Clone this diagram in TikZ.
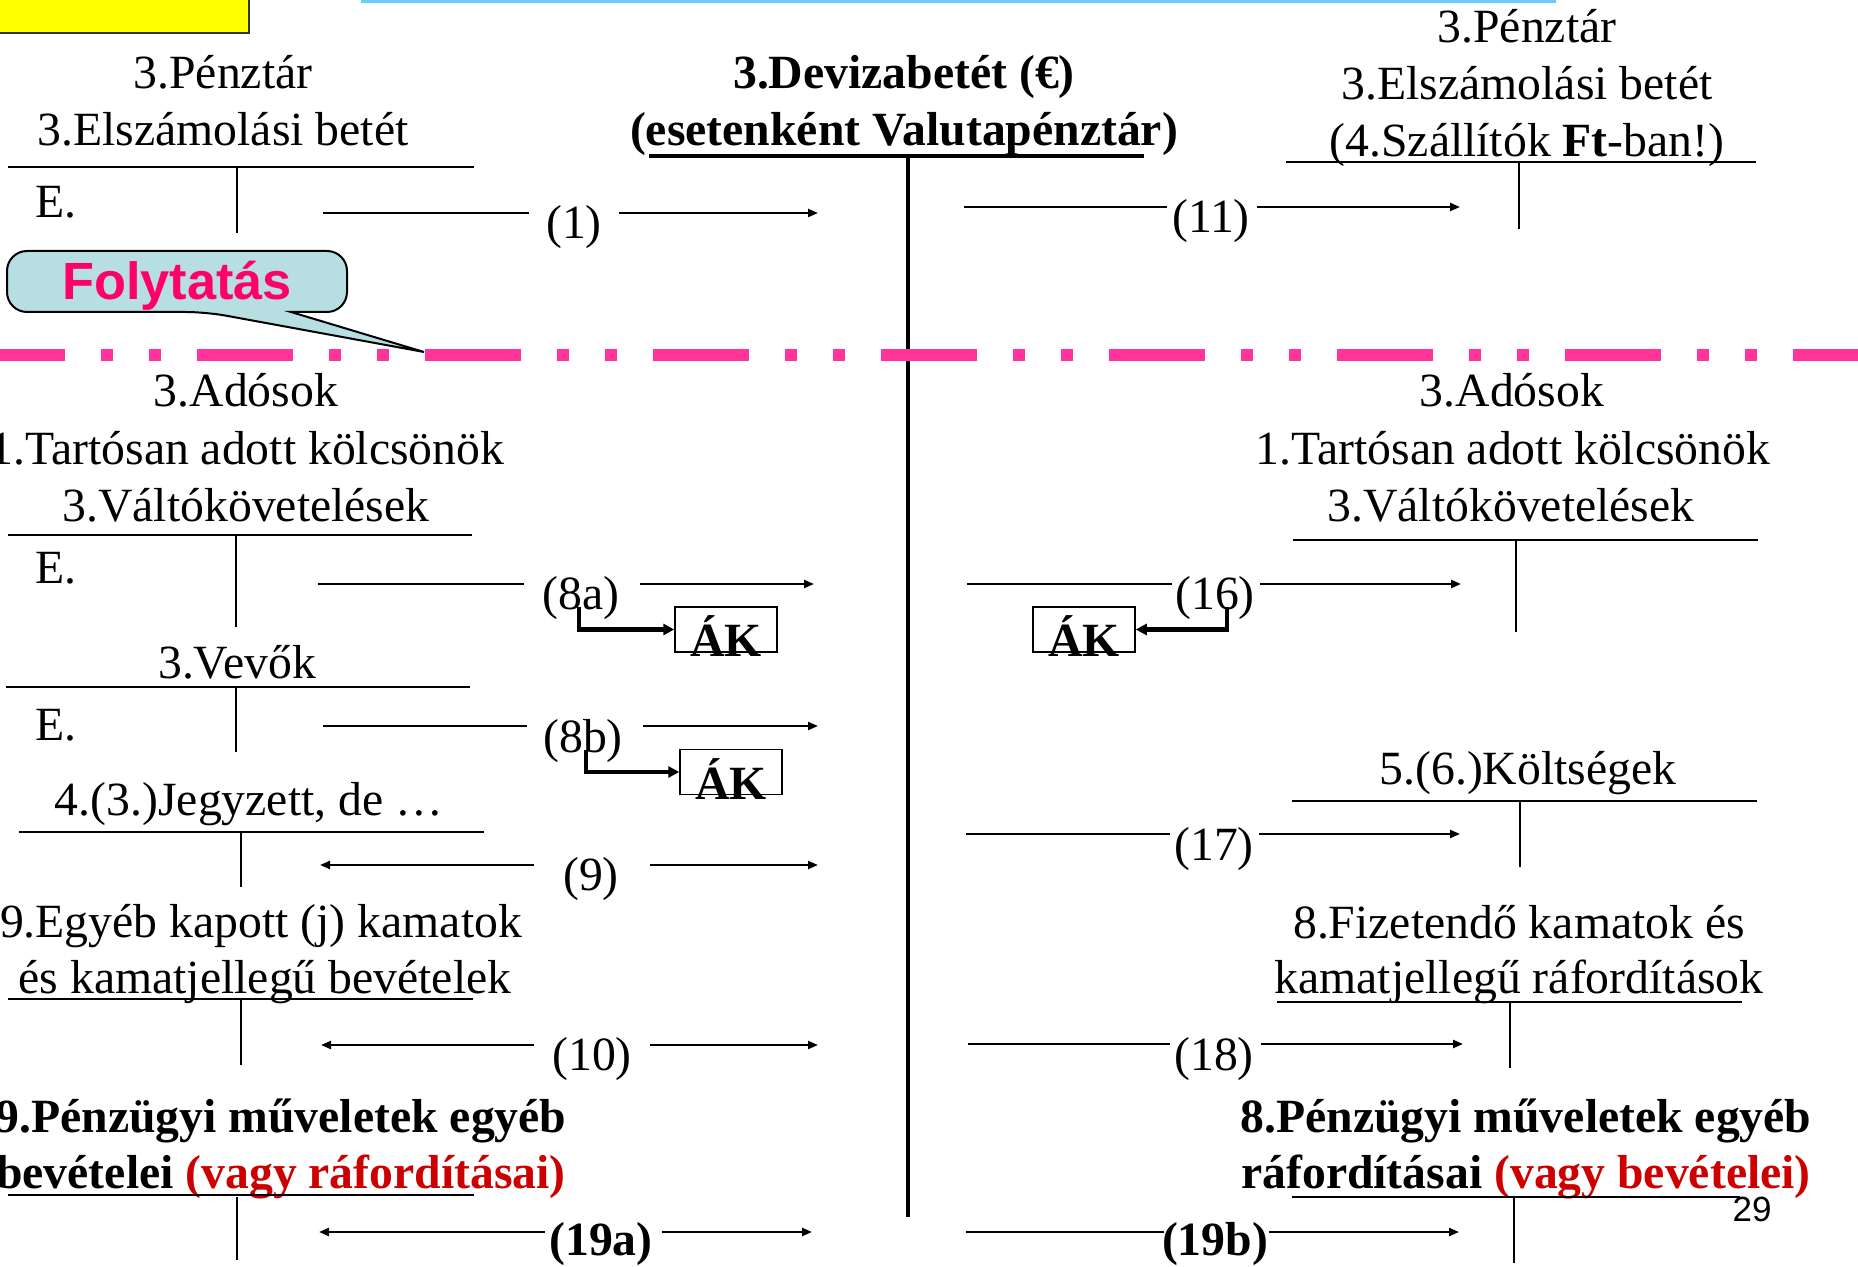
\documentclass[tikz,border=0pt]{standalone}
\usepackage{fontspec}
\setmainfont{Liberation Serif}
\setsansfont{Liberation Sans}
\usepackage{tikz}
\usetikzlibrary{arrows.meta}
\definecolor{ffqqww}{rgb}{1.,0.,0.4}
\definecolor{ffzzcc}{rgb}{1.,0.2,0.6}
\definecolor{ccqqqq}{rgb}{0.8,0.,0.}
\definecolor{bbddee}{rgb}{0.718,0.871,0.882}
\definecolor{wwccff}{rgb}{0.4,0.8,1.}
\definecolor{ffffqq}{rgb}{1.,1.,0.}
\tikzset{
  every node/.style={font=\fontsize{13.57}{16}\selectfont,inner sep=0pt},
  acct/.style={anchor=base},
  acctb/.style={anchor=base,font=\fontsize{13.57}{16}\selectfont\bfseries},
  tbar/.style={line width=0.28mm},
  tstem/.style={line width=0.2mm},
  bigt/.style={line width=0.45mm},
  post/.style={line width=0.22mm},
  akbox/.style={draw,line width=0.15mm,minimum width=10.2mm,minimum height=4.5mm},
  bent/.style={line width=0.45mm,-{Triangle[length=1.1mm,width=1.1mm]}}
}

\begin{document}
\begin{tikzpicture}[line cap=butt,line join=miter,>={Triangle[length=1.0mm,width=0.8mm]},x=0.1mm,y=-0.1mm]
\useasboundingbox (0,0) rectangle (1858,1267);
\draw [line width=0.25mm,draw=black!80,fill=ffffqq] (-10,-10) rectangle (249,33);
\draw [wwccff,line width=0.35mm] (361,1.7) -- (1556,1.7);

\node [acct] (penz1) at (223,89) {3.Pénztár};
\node [acct] (elsz1) at (223,146) {3.Elszámolási betét};
\draw [tbar] (8,167) -- (474,167);
\draw [tstem] (237,167) -- (237,233);
\node [acct] (e1) at (56,218) {E.};

\node [acctb] (deviza) at (904,89) {3.Devizabetét (€)};
\node [acctb] (valuta) at (904,146) {(esetenként Valutapénztár)};
\draw [bigt] (649,156) -- (1144,156);
\draw [bigt] (908,156) -- (908,1217);

\node [acct] (penz2) at (1527,43) {3.Pénztár};
\node [acct] (elsz2) at (1527,100) {3.Elszámolási betét};
\node [acct] (szall) at (1527,157) {(4.Szállítók \textbf{Ft}-ban!)};
\draw [tbar] (1286,162) -- (1756,162);
\draw [tstem] (1519,163) -- (1519,229);

\coordinate (a1) at (323,213); \coordinate (b1) at (529,213);
\coordinate (c1) at (619,213); \coordinate (d1) at (818,213);
\node [acct] (n1) at (574,239) {(1)};
\draw [post] (a1) -- (b1);
\draw [post,->] (c1) -- (d1);

\coordinate (a11) at (964,207); \coordinate (b11) at (1167,207);
\coordinate (c11) at (1257,207); \coordinate (d11) at (1460,207);
\node [acct] (n11) at (1211,233) {(11)};
\draw [post] (a11) -- (b11);
\draw [post,->] (c11) -- (d11);

\draw [line width=0.2mm,fill=bbddee] (291,312) {[rounded corners=2mm] -- (347,312) -- (347,251) -- (7,251) -- (7,312) -- (206,312)} -- (424,352) -- cycle;
\node [anchor=base,text=ffqqww,font=\fontsize{14.9}{18}\selectfont\sffamily\bfseries] (folyt) at (177,300) {Folytatás};

\draw [ffzzcc,line width=1.2mm,dash pattern=on 9.6mm off 3.6mm on 1.2mm off 3.6mm on 1.2mm off 3.6mm,dash phase=3.1mm] (0,355) -- (1858,355);

\node [acct] (ados1) at (246,407) {3.Adósok};
\node [acct] (tart1) at (247,465) {1.Tartósan adott kölcsönök};
\node [acct] (valt1) at (246,522) {3.Váltókövetelések};
\draw [tbar] (8,535) -- (472,535);
\draw [tstem] (236,535) -- (236,627);
\node [acct] (e2) at (56,583) {E.};

\coordinate (a8a) at (318,584); \coordinate (b8a) at (524,584);
\coordinate (c8a) at (640,584); \coordinate (d8a) at (814,584);
\node [acct] (n8a) at (581,610) {(8a)};
\draw [post] (a8a) -- (b8a);
\draw [post,->] (c8a) -- (d8a);
\node [akbox] (ak8a) at (726,629.5) {\raisebox{-2.7mm}[0pt][0pt]{\bfseries ÁK}};
\coordinate (t8a) at (579,607);
\draw [bent] (t8a) |- (ak8a.west);

\node [acct] (vevo) at (237,678) {3.Vevők};
\draw [tbar] (6,687) -- (470,687);
\draw [tstem] (236,688) -- (236,752);
\node [acct] (e3) at (56,740) {E.};

\coordinate (a8b) at (323,726); \coordinate (b8b) at (527,726);
\coordinate (c8b) at (643,726); \coordinate (d8b) at (818,726);
\node [acct] (n8b) at (583,752) {(8b)};
\draw [post] (a8b) -- (b8b);
\draw [post,->] (c8b) -- (d8b);
\node [akbox] (ak8b) at (731,772) {\raisebox{-2.7mm}[0pt][0pt]{\bfseries ÁK}};
\coordinate (t8b) at (586,750);
\draw [bent] (t8b) |- (ak8b.west);

\node [acct] (jegy) at (249,815) {4.(3.)Jegyzett, de …};
\draw [tbar] (19,832) -- (484,832);
\draw [tstem] (241,832) -- (241,887);

\coordinate (a9) at (320,865); \coordinate (b9) at (534,865);
\coordinate (c9) at (650,865); \coordinate (d9) at (818,865);
\node [acct] (n9) at (591,890) {(9)};
\draw [post,<-] (a9) -- (b9);
\draw [post,->] (c9) -- (d9);

\node [acct] (egyeb1) at (261,937) {9.Egyéb kapott (j) kamatok};
\node [acct] (egyeb2) at (265,993) {és kamatjellegű bevételek};
\draw [tbar] (8,999) -- (473,999);
\draw [tstem] (241,1000) -- (241,1065);

\coordinate (a10) at (321,1045); \coordinate (b10) at (534,1045);
\coordinate (c10) at (650,1045); \coordinate (d10) at (818,1045);
\node [acct] (n10) at (592,1070) {(10)};
\draw [post,<-] (a10) -- (b10);
\draw [post,->] (c10) -- (d10);

\node [acctb] (penzu1) at (281,1132) {9.Pénzügyi műveletek egyéb};
\node [acctb] (penzu2) at (281,1188) {bevételei \textcolor{ccqqqq}{(vagy ráfordításai)}};
\draw [tbar] (8,1195) -- (474,1195);
\draw [tstem] (237,1197) -- (237,1260);

\coordinate (a19a) at (319,1232); \coordinate (b19a) at (545,1232);
\coordinate (c19a) at (662,1232); \coordinate (d19a) at (812,1232);
\node [acctb] (n19a) at (601,1255) {(19a)};
\draw [post,<-] (a19a) -- (b19a);
\draw [post,->] (c19a) -- (d19a);

\node [acct] (ados2) at (1512,407) {3.Adósok};
\node [acct] (tart2) at (1513,465) {1.Tartósan adott kölcsönök};
\node [acct] (valt2) at (1511,522) {3.Váltókövetelések};
\draw [tbar] (1293,540) -- (1758,540);
\draw [tstem] (1516,541) -- (1516,632);

\coordinate (a16) at (967,584); \coordinate (b16) at (1172,584);
\coordinate (c16) at (1260,584); \coordinate (d16) at (1461,584);
\node [acct] (n16) at (1215,610) {(16)};
\draw [post] (a16) -- (b16);
\draw [post,->] (c16) -- (d16);
\node [akbox] (ak16) at (1084,629.5) {\raisebox{-2.7mm}[0pt][0pt]{\bfseries ÁK}};
\coordinate (t16) at (1227,607);
\draw [bent] (t16) |- (ak16.east);

\node [acct] (kolt) at (1528,784) {5.(6.)Költségek};
\draw [tbar] (1292,801) -- (1757,801);
\draw [tstem] (1520,802) -- (1520,867);

\coordinate (a17) at (966,834); \coordinate (b17) at (1170,834);
\coordinate (c17) at (1259,834); \coordinate (d17) at (1460,834);
\node [acct] (n17) at (1214,860) {(17)};
\draw [post] (a17) -- (b17);
\draw [post,->] (c17) -- (d17);

\node [acct] (fiz1) at (1519,938) {8.Fizetendő kamatok és};
\node [acct] (fiz2) at (1519,993) {kamatjellegű ráfordítások};
\draw [tbar] (1277,1002) -- (1742,1002);
\draw [tstem] (1510,1003) -- (1510,1068);

\coordinate (a18) at (968,1044); \coordinate (b18) at (1170,1044);
\coordinate (c18) at (1261,1044); \coordinate (d18) at (1463,1044);
\node [acct] (n18) at (1214,1070) {(18)};
\draw [post] (a18) -- (b18);
\draw [post,->] (c18) -- (d18);

\node [acctb] (penzu3) at (1526,1132) {8.Pénzügyi műveletek egyéb};
\node [acctb] (penzu4) at (1526,1188) {ráfordításai \textcolor{ccqqqq}{(vagy bevételei)}};
\draw [tbar] (1292,1197) -- (1740,1197);
\draw [tstem] (1514,1198) -- (1514,1263);

\coordinate (a19b) at (966,1232); \coordinate (b19b) at (1164,1232);
\coordinate (c19b) at (1269,1232); \coordinate (d19b) at (1459,1232);
\node [acctb] (n19b) at (1215,1255) {(19b)};
\draw [post] (a19b) -- (b19b);
\draw [post,->] (c19b) -- (d19b);

\node [anchor=base,font=\fontsize{9.96}{12}\selectfont\sffamily] (page) at (1752,1221) {29};
\end{tikzpicture}
\end{document}
